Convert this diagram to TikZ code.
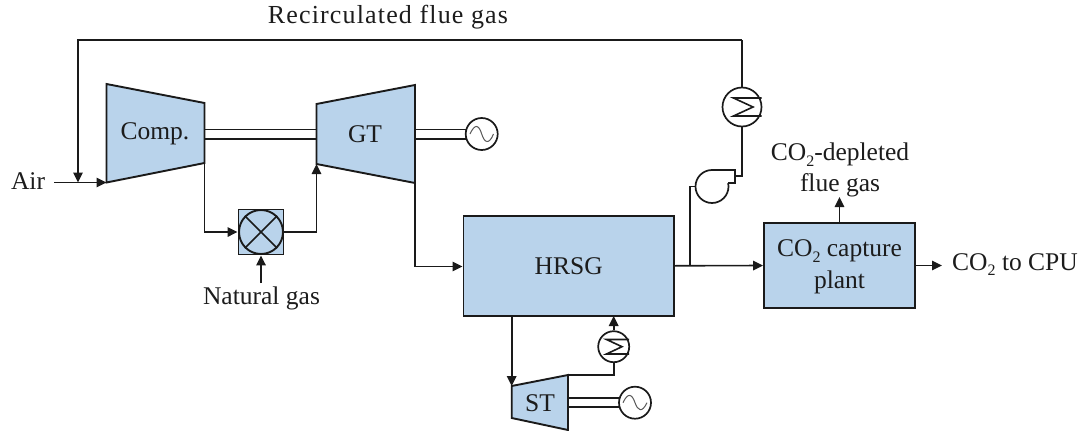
\documentclass[tikz,border=0pt]{standalone}
\usepackage{fontspec}
\setmainfont{Liberation Serif}
\usetikzlibrary{arrows.meta}
\definecolor{eqfill}{HTML}{B9D3EB}
\definecolor{eqline}{HTML}{1A1A1A}
\definecolor{lbl}{HTML}{1C1C1C}
\newcommand{\subtwo}{\raisebox{-0.22em}{\fontsize{16}{16}\selectfont 2}}
\tikzset{
  x=1pt,y=-1pt,
  equip/.style={draw=eqline,fill=eqfill,line width=1.9pt,line join=miter},
  boxnode/.style={equip,rectangle,inner sep=0pt,align=center,text=lbl,font=\fontsize{25.5}{32}\selectfont},
  lab/.style={inner sep=0pt,align=center,text=lbl,font=\fontsize{25.5}{31}\selectfont},
  pipe/.style={draw=eqline,line width=1.6pt},
  flow/.style={pipe,-{Triangle[length=10pt,width=9.5pt]}},
  shaft/.style={draw=eqline,line width=1.7pt},
  ring/.style={circle,draw=eqline,line width=1.7pt,fill=white,inner sep=0pt},
  zig/.style={draw=eqline,line width=1.6pt,line join=miter}
}
\begin{document}
\begin{tikzpicture}
\useasboundingbox (0,0) rectangle (1082,431);
% key points
\coordinate (compTL) at (106.5,84);
\coordinate (compTR) at (204.5,103);
\coordinate (compBR) at (204.5,163);
\coordinate (compBL) at (106.5,182.5);
\coordinate (gtTL) at (316.5,104);
\coordinate (gtTR) at (415,85);
\coordinate (gtBR) at (415,183);
\coordinate (gtBL) at (316.5,164);
\coordinate (stTL) at (511.7,386);
\coordinate (stTR) at (568,375);
\coordinate (stBR) at (568,430);
\coordinate (stBL) at (511.7,418);
% labels and equipment
\draw[equip] (compTL) -- (compTR) -- (compBR) -- (compBL) -- cycle;
\draw[equip] (gtTL) -- (gtTR) -- (gtBR) -- (gtBL) -- cycle;
\draw[equip] (stTL) -- (stTR) -- (stBR) -- (stBL) -- cycle;
\node[lab] (tcomp) at (155,134) {Comp.};
\node[lab] (tgt) at (365,134) {GT};
\node[lab] (tst) at (540,403) {ST};
\node[boxnode,minimum width=45pt,minimum height=45pt] (comb) at (261,232) {};
\node[circle,draw=eqline,line width=1.9pt,inner sep=0pt,minimum size=44pt] (combc) at (261,232) {};
\draw[line width=1.7pt,draw=eqline] (combc.45) -- (combc.225) (combc.135) -- (combc.315);
\node[boxnode,minimum width=210.5pt,minimum height=100.5pt] (hrsg) at (568.7,265.8) {HRSG};
\node[boxnode,minimum width=151pt,minimum height=85pt] (capture) at (839.5,265.5) {};
\node[lab,font=\fontsize{25.5}{32}\selectfont] (capturetext) at (839.5,267) {CO\subtwo{} capture\\plant};
\node[ring,minimum size=32pt] (gen1) at (481.7,134) {};
\node[ring,minimum size=32pt] (gen2) at (635,402.7) {};
\draw[line width=1pt,draw=black!65] (470,134) .. controls (475,123) and (479,125) .. (481.7,134) .. controls (484.5,143) and (489,145) .. (493.5,134);
\draw[line width=1pt,draw=black!65] (623,402.7) .. controls (628,392) and (632,394) .. (635,402.7) .. controls (638,411) and (642,413) .. (647,402.7);
\node[ring,minimum size=39pt] (cool1) at (742,107) {};
\draw[zig] (761.5,98) -- (733.5,98) -- (753,107) -- (733.5,116) -- (761.5,116);
\node[ring,minimum size=31pt] (cool2) at (613.7,346.7) {};
\draw[zig] (629,339.5) -- (606.5,339.5) -- (622,346.7) -- (606.5,354) -- (629,354);
% fan
\node[ring,minimum size=33pt] (fan) at (712,186.5) {};
\fill[white] (712,170.5) -- (735,170.5) -- (735,183) -- (728,183) -- (712,186.5) -- cycle;
\draw[draw=eqline,line width=1.6pt] (712,170) -- (735,170) -- (735,183) -- (727.5,183);
\coordinate (fanout) at (735,176);
% text
\node[lab,font=\fontsize{26}{31}\selectfont\addfontfeature{LetterSpace=4.4}] (recirc) at (388,17) {Recirculated flue gas};
\node[lab] (air) at (28,181) {Air};
\node[lab] (ng) at (261.5,298) {Natural gas};
\node[lab] (depl) at (840,170) {CO\subtwo{}-depleted\\flue gas};
\node[lab] (cpu) at (1015,264.5) {CO\subtwo{} to CPU};
% shafts
\draw[shaft] (204.5,129.5) -- (316.5,129.5) (204.5,138.7) -- (316.5,138.7);
\draw[shaft] (415,129.5) -- (467,129.5) (415,138.7) -- (467,138.7);
\draw[shaft] (568,398) -- (620,398) (568,407) -- (620,407);
% connectors
\coordinate (airstart) at (54,182.5);
\coordinate (recdrop) at (78,182.5);
\coordinate (rectop1) at (78,40);
\coordinate (rectop2) at (742,40);
\coordinate (ngstart) at (261,283);
\coordinate (hrsgtap) at (690,265.8);
\coordinate (stpipe) at (613.7,375);
\coordinate (hrsgsteam) at (613.7,316);
\draw[flow] (airstart) -- (compBL);
\draw[flow] (rectop2) -- (rectop1) -- (recdrop);
\draw[pipe] (cool1.north) -- (rectop2);
\draw[pipe] (cool1.south) -- (742,176) -- (fanout);
\draw[pipe] (hrsgtap) -- (690,186.5) -- (fan.west);
\draw[flow] (compBR) -- (204.5,232) -- (comb.west);
\draw[flow] (comb.east) -- (316.5,232) -- (gtBL);
\draw[flow] (ngstart) -- (comb.south);
\draw[flow] (gtBR) -- (415,266.5) -- (hrsg.west |- 0,266.5);
\draw[flow] (hrsg.east) -- (capture.west);
\draw[flow] (capture.north) -- (839.5,197);
\draw[flow] (capture.east) -- (942,265.5);
\draw[flow] (511.7,316) -- (stTL);
\draw[pipe] (stTR) -- (stpipe) -- (cool2.south);
\draw[flow] (cool2.north) -- (hrsgsteam);
\end{tikzpicture}
\end{document}
